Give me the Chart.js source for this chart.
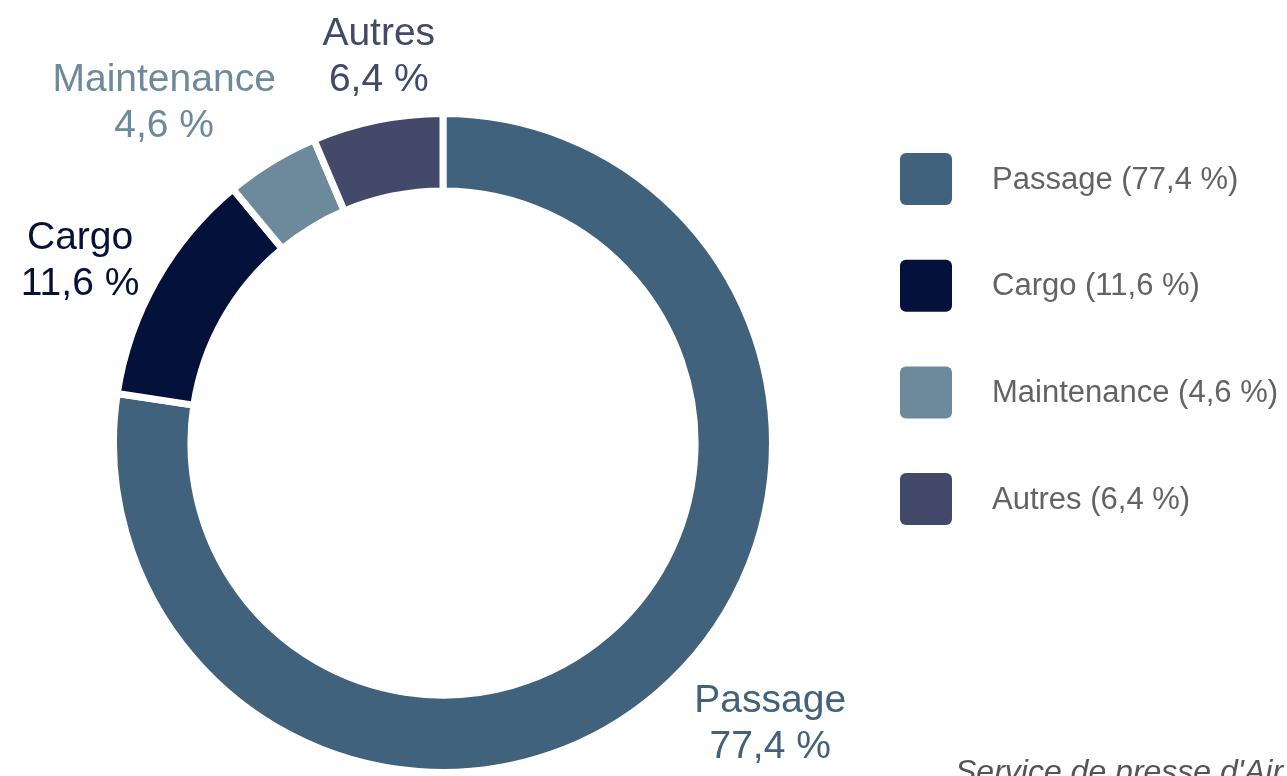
<!DOCTYPE html>
<html>
<head>
<meta charset="utf-8">
<script src="https://cdn.jsdelivr.net/npm/chart.js@4"></script>
<style>
  html, body { margin: 0; padding: 0; background: #fff; }
  #wrap { width: 1287px; height: 776px; position: relative; }
</style>
</head>
<body>
<div id="wrap"><canvas id="myChart" width="1287" height="776"></canvas></div>
<script>
// data
var categories = ['Passage', 'Cargo', 'Maintenance', 'Autres'];
var shares = [77.4, 11.6, 4.6, 6.4];
var colours = ['#41627c', '#04113a', '#6c8a9c', '#434968'];
var sourceText = "Service de presse d'Air France-KLM";

var fontFamily = '"Liberation Sans", Arial, Helvetica, sans-serif';

var fmt = function (v) {
    return v.toFixed(1).replace('.', ',') + ' %';
};

// labels outside each arc: name + percentage, coloured like the arc
var outerLabels = {
    id: 'outerLabels',
    afterDatasetsDraw: function (chart, args, opts) {
        var ctx = chart.ctx;
        var meta = chart.getDatasetMeta(0);
        var size = 39, lineH = 46, gap = 26;
        var nudge = opts.nudge || [];
        ctx.save();
        ctx.font = size + 'px ' + fontFamily;
        ctx.textBaseline = 'middle';
        ctx.textAlign = 'center';
        meta.data.forEach(function (arc, i) {
            var p = arc.getProps(['x', 'y', 'startAngle', 'endAngle', 'outerRadius'], true);
            var mid = (p.startAngle + p.endAngle) / 2;
            var dx = Math.cos(mid), dy = Math.sin(mid);
            var r = p.outerRadius + gap;
            var lines = [categories[i], fmt(shares[i])];
            var w = Math.max(ctx.measureText(lines[0]).width, ctx.measureText(lines[1]).width);
            var h = lineH * 2;
            var n = nudge[i] || [0, 0];
            var cx = p.x + dx * (r + w / 2) + n[0];
            var cy = p.y + dy * (r + h / 2) + n[1];
            ctx.fillStyle = colours[i];
            ctx.fillText(lines[0], cx, cy - lineH / 2);
            ctx.fillText(lines[1], cx, cy + lineH / 2);
        });
        ctx.restore();
    }
};

// legend on the right with big rounded squares
var sideLegend = {
    id: 'sideLegend',
    afterDraw: function (chart) {
        var ctx = chart.ctx;
        var x0 = 900, y0 = 153, box = 52, step = 106.7, textGap = 40;
        ctx.save();
        ctx.font = '31px ' + fontFamily;
        ctx.textBaseline = 'middle';
        ctx.textAlign = 'left';
        categories.forEach(function (name, i) {
            var y = y0 + i * step;
            ctx.fillStyle = colours[i];
            ctx.beginPath();
            ctx.roundRect(x0, y, box, box, 6);
            ctx.fill();
            ctx.fillStyle = '#636363';
            ctx.fillText(name + ' (' + fmt(shares[i]) + ')', x0 + box + textGap, y + box / 2 + 1);
        });
        // source line, cut by the bottom edge like in the picture
        ctx.font = 'italic 32px ' + fontFamily;
        ctx.fillStyle = '#555';
        ctx.textBaseline = 'alphabetic';
        ctx.fillText(sourceText, 955, 782);
        ctx.restore();
    }
};

const ctx = document.getElementById('myChart');

new Chart(ctx, {
    type: 'doughnut',
    data: {
        labels: categories,
        datasets: [{
            data: shares,
            backgroundColor: colours,
            borderColor: '#ffffff',
            borderWidth: 7,
            hoverOffset: 0
        }]
    },
    options: {
        responsive: false,
        animation: false,
        cutout: '76.5%',
        layout: {
            padding: { top: 110, bottom: -6, left: 106, right: 507 }
        },
        plugins: {
            legend: { display: false },
            tooltip: { enabled: false },
            outerLabels: {
                nudge: [[46, -23], [-2, 16], [-36, 3], [18, 8]]
            }
        }
    },
    plugins: [outerLabels, sideLegend]
});
</script>
</body>
</html>
